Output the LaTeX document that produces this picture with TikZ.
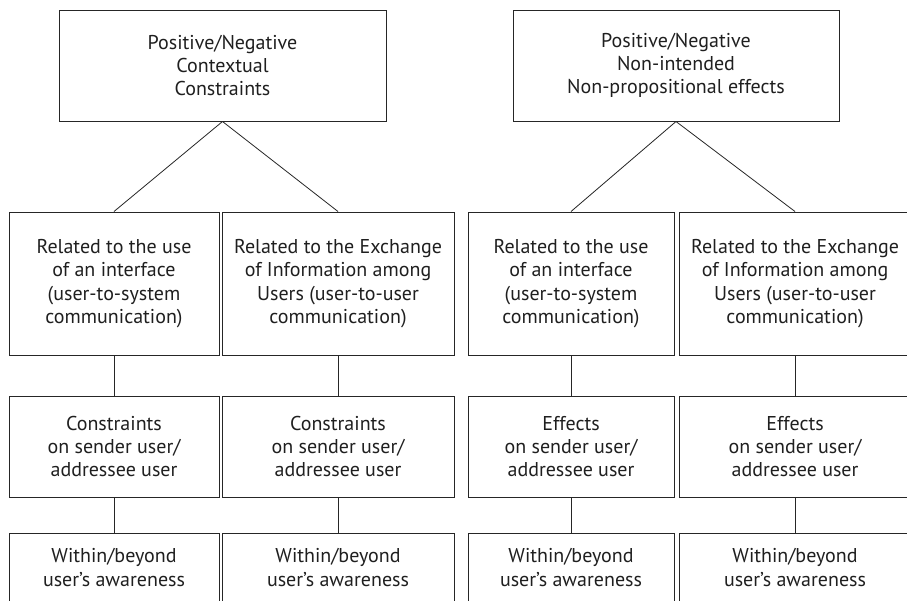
\documentclass[tikz,border=0pt]{standalone}
\usepackage{fontspec}
\setmainfont{PT Sans}
\usetikzlibrary{positioning}

\begin{document}
\begin{tikzpicture}[x=1pt, y=-1pt, b/.style={rectangle, draw=black!85, line width=1pt, align=center, inner sep=0pt, text=black!88, font=\fontsize{20}{23.3}\selectfont}, w/.style={minimum width=232pt}, n/.style={minimum width=210pt}, r1/.style={minimum height=143pt}, r2/.style={minimum height=101pt}, r3/.style={minimum height=69pt}, l/.style={draw=black!85, line width=0.8pt}]
		\useasboundingbox (0,0) rectangle (907,600);

		\node[b, minimum width=327pt, minimum height=111pt] (T1) at (222.5,65.5) {Positive/Negative\\Contextual\\Constraints};
		\node[b, minimum width=326pt, minimum height=111pt] (T2) at (676,65.5) {Positive/Negative\\Non-intended\\Non-propositional effects};

		\node[b, n, r1] (A1) at (114,283.5) {Related to the use\\of an interface\\(user-to-system\\communication)};
		\node[b, w, r1] (A2) at (338,283.5) {Related to the Exchange\\of Information among\\Users (user-to-user\\communication)};
		\node[b, n, r1, minimum width=206pt] (A3) at (571,283.5) {Related to the use\\of an interface\\(user-to-system\\communication)};
		\node[b, w, r1] (A4) at (795,283.5) {Related to the Exchange\\of Information among\\Users (user-to-user\\communication)};

		\node[b, n, r2] (B1) at (114,446.5) {Constraints\\on sender user/\\addressee user};
		\node[b, w, r2] (B2) at (338,446.5) {Constraints\\on sender user/\\addressee user};
		\node[b, n, r2, minimum width=206pt] (B3) at (571,446.5) {Effects\\on sender user/\\addressee user};
		\node[b, w, r2] (B4) at (795,446.5) {Effects\\on sender user/\\addressee user};

		\node[b, n, r3] (C1) at (114,567.5) {Within/beyond\\user’s awareness};
		\node[b, w, r3] (C2) at (338,567.5) {Within/beyond\\user’s awareness};
		\node[b, n, r3, minimum width=206pt] (C3) at (571,567.5) {Within/beyond\\user’s awareness};
		\node[b, w, r3] (C4) at (795,567.5) {Within/beyond\\user’s awareness};


		\path[l] (T1.south) edge (A1.north);
		\path[l] (T1.south) edge (A2.north);
		\path[l] (T2.south) edge (A3.north);
		\path[l] (T2.south) edge (A4.north);
		\path[l] (A1) edge (B1);
		\path[l] (A2) edge (B2);
		\path[l] (A3) edge (B3);
		\path[l] (A4) edge (B4);
		\path[l] (B1) edge (C1);
		\path[l] (B2) edge (C2);
		\path[l] (B3) edge (C3);
		\path[l] (B4) edge (C4);
	\end{tikzpicture}
\end{document}
